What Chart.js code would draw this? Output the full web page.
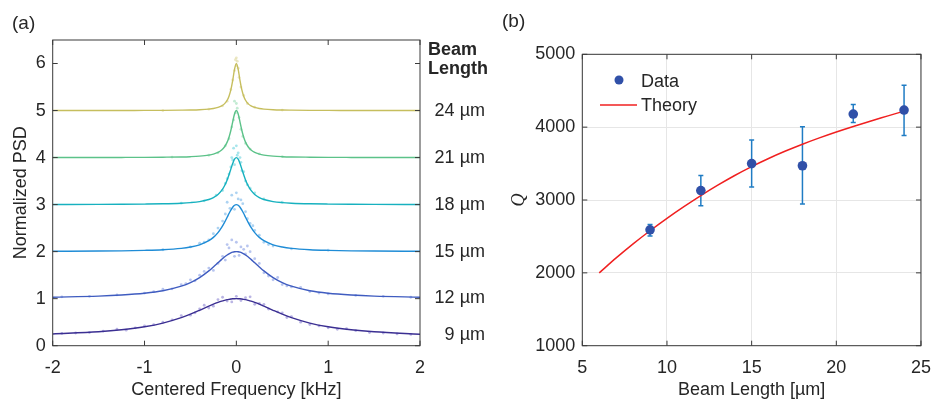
<!DOCTYPE html>
<html>
<head>
<meta charset="utf-8">
<script src="https://cdn.jsdelivr.net/npm/chart.js@4.4.1/dist/chart.umd.min.js"></script>
<style>
  body { margin: 0; background: #fff; }
  #wrap { position: relative; width: 943px; height: 401px; }
  canvas { position: absolute; top: 0; }
  #chartA { left: 0; }
  #chartB { left: 480px; }
</style>
</head>
<body>
<div id="wrap">
  <canvas id="chartA" width="500" height="401"></canvas>
  <canvas id="chartB" width="463" height="401"></canvas>
</div>
<script>
/* PANEL (a) DATA */

var freq = [-2, -1.5, -1.25, -1, -0.8, -0.6, -0.5, -0.4, -0.3, -0.25, -0.2, -0.16, -0.13, -0.1, -0.08, -0.06, -0.04, -0.02, 0,
  0.02, 0.04, 0.06, 0.08, 0.1, 0.13, 0.16, 0.2, 0.25, 0.3, 0.4, 0.5, 0.6, 0.8, 1, 1.25, 1.5, 2];

var psd9 = [0.250, 0.296, 0.338, 0.402, 0.481, 0.597, 0.670, 0.753, 0.840, 0.882, 0.920, 0.947, 0.964, 0.979, 0.986, 0.992, 0.997, 0.999, 1.000,
  0.999, 0.997, 0.992, 0.986, 0.979, 0.964, 0.947, 0.920, 0.882, 0.840, 0.753, 0.670, 0.597, 0.481, 0.402, 0.338, 0.296, 0.245];
var psd12 = [1.031, 1.054, 1.077, 1.115, 1.168, 1.265, 1.341, 1.447, 1.590, 1.675, 1.764, 1.835, 1.885, 1.928, 1.953, 1.973, 1.988, 1.997, 2.000,
  1.997, 1.988, 1.973, 1.953, 1.928, 1.885, 1.835, 1.764, 1.675, 1.590, 1.447, 1.341, 1.265, 1.168, 1.115, 1.077, 1.054, 1.031];
var psd15 = [2.007, 2.012, 2.017, 2.027, 2.041, 2.070, 2.098, 2.145, 2.232, 2.303, 2.405, 2.515, 2.617, 2.731, 2.810, 2.883, 2.944, 2.986, 3.000,
  2.986, 2.944, 2.883, 2.810, 2.731, 2.617, 2.515, 2.405, 2.303, 2.232, 2.145, 2.098, 2.070, 2.041, 2.027, 2.017, 2.012, 2.007];
var psd18 = [3.003, 3.005, 3.007, 3.011, 3.017, 3.030, 3.042, 3.064, 3.109, 3.150, 3.216, 3.301, 3.395, 3.524, 3.633, 3.754, 3.873, 3.965, 4.000,
  3.965, 3.873, 3.754, 3.633, 3.524, 3.395, 3.301, 3.216, 3.150, 3.109, 3.064, 3.042, 3.030, 3.017, 3.011, 3.007, 3.005, 3.003];
var psd21 = [4.001, 4.002, 4.003, 4.005, 4.008, 4.013, 4.019, 4.030, 4.052, 4.073, 4.109, 4.161, 4.225, 4.329, 4.434, 4.576, 4.754, 4.925, 5.000,
  4.925, 4.754, 4.576, 4.434, 4.329, 4.225, 4.161, 4.109, 4.073, 4.052, 4.030, 4.019, 4.013, 4.008, 4.005, 4.003, 4.002, 4.001];
var psd24 = [5.001, 5.001, 5.002, 5.003, 5.004, 5.008, 5.011, 5.017, 5.030, 5.043, 5.066, 5.099, 5.142, 5.219, 5.305, 5.438, 5.637, 5.876, 6.000,
  5.876, 5.637, 5.438, 5.305, 5.219, 5.142, 5.099, 5.066, 5.043, 5.030, 5.017, 5.011, 5.008, 5.004, 5.003, 5.002, 5.001, 5.001];

var pts9 = [[0, 1.05], [-0.1, 0.95], [0.1, 1.02], [-0.2, 0.98], [0.2, 0.88], [-0.3, 0.8], [0.3, 0.88], [-0.4, 0.78], [0.45, 0.72],
  [-0.5, 0.65], [0.6, 0.62], [-0.7, 0.55], [0.7, 0.5], [-0.9, 0.45], [0.9, 0.42], [-1.1, 0.38], [1.1, 0.35], [-1.3, 0.35],
  [1.3, 0.32], [-1.6, 0.28], [1.6, 0.27], [-1.9, 0.26], [1.9, 0.24], [-0.05, 0.93], [0.15, 1.04], [-0.6, 0.64], [0.55, 0.6],
  [-0.15, 1.03], [0.05, 0.96], [-0.35, 0.86], [0.35, 0.78], [-0.8, 0.5], [0.8, 0.45], [-1.0, 0.42], [1.0, 0.38], [-1.45, 0.31],
  [1.45, 0.28], [-1.75, 0.27], [1.75, 0.25], [-0.25, 0.84], [0.25, 0.9], [-0.45, 0.7], [0.5, 0.7], [-1.2, 0.33], [1.2, 0.36]];
var pts12 = [[0, 2.2], [-0.05, 2.25], [0.05, 2.1], [-0.1, 2.15], [0.1, 1.95], [-0.15, 1.9], [0.15, 2.0], [-0.2, 1.75], [0.2, 1.85],
  [-0.3, 1.65], [0.3, 1.55], [-0.4, 1.5], [0.4, 1.4], [-0.5, 1.4], [0.5, 1.3], [-0.6, 1.3], [0.6, 1.25], [-0.8, 1.2], [0.8, 1.15],
  [-1.0, 1.12], [1.0, 1.1], [-1.3, 1.08], [1.3, 1.07], [-1.6, 1.05], [-0.02, 1.9], [0.08, 2.05], [-0.25, 1.6], [0.25, 1.75],
  [-0.08, 2.08], [0.03, 1.92], [-0.12, 1.82], [0.12, 2.12], [-0.35, 1.58], [0.35, 1.48], [-0.45, 1.38], [0.45, 1.45],
  [-0.55, 1.32], [0.55, 1.27], [-0.7, 1.21], [0.7, 1.24], [-0.9, 1.15], [0.9, 1.12], [1.6, 1.05], [-1.9, 1.04], [1.9, 1.03]];
var pts15 = [[0, 3.25], [-0.05, 3.2], [0.05, 3.1], [-0.1, 3.05], [0.1, 2.85], [-0.02, 2.9], [0.15, 2.6], [-0.15, 2.65], [0.2, 2.45],
  [-0.2, 2.5], [0.25, 2.35], [-0.3, 2.25], [0.3, 2.2], [-0.4, 2.18], [0.4, 2.12], [-0.5, 2.1], [0.6, 2.06], [-0.8, 2.04], [1.0, 2.03],
  [0.02, 3.12], [-0.07, 2.92], [0.07, 3.02], [-0.12, 2.8], [0.12, 2.7], [-0.25, 2.38], [0.18, 2.55], [-0.35, 2.2], [0.35, 2.15]];
var pts18 = [[0, 4.25], [-0.03, 4.2], [0.02, 4.1], [-0.05, 4.0], [0.05, 3.9], [-0.02, 3.85], [0.08, 3.7], [-0.08, 3.65], [0.1, 3.5],
  [-0.12, 3.45], [0.15, 3.35], [-0.15, 3.3], [0.2, 3.25], [-0.22, 3.2], [0.3, 3.12], [-0.35, 3.08], [0.5, 3.05], [-0.6, 3.03],
  [0.01, 4.05], [-0.04, 3.95], [0.04, 4.0], [-0.06, 3.8], [0.06, 3.72], [0.12, 3.42], [-0.1, 3.55]];
var pts21 = [[0, 5.15], [-0.02, 5.2], [0.01, 5.05], [-0.01, 4.95], [0.03, 4.85], [-0.03, 4.8], [0.05, 4.6], [-0.05, 4.65], [0.07, 4.45],
  [-0.08, 4.4], [0.1, 4.3], [-0.12, 4.25], [0.15, 4.18], [-0.2, 4.1], [0.25, 4.08], [-0.3, 4.05], [0.5, 4.02], [-0.7, 4.01]];
var pts24 = [[0, 6.12], [0.01, 6.05], [-0.01, 6.08], [0, 5.95], [0.02, 5.9], [-0.02, 5.85], [0.03, 5.7], [-0.04, 5.65], [0.05, 5.5],
  [-0.06, 5.45], [0.08, 5.32], [-0.1, 5.2], [0.12, 5.15], [-0.15, 5.1], [0.2, 5.07], [-0.3, 5.03], [0.5, 5.01], [-0.8, 5.0]];

var beamLabels = ["9 µm", "12 µm", "15 µm", "18 µm", "21 µm", "24 µm"];
var lineColors = ["#3b2f92", "#3f5cc0", "#1f8cd6", "#17b1bf", "#5cc289", "#c6be5e"];
var dotColors = ["rgba(130,120,205,0.55)", "rgba(125,150,225,0.55)", "rgba(105,175,232,0.55)",
  "rgba(95,208,218,0.55)", "rgba(145,218,175,0.55)", "rgba(218,212,145,0.55)"];
var xTicksA = [-2, -1, 0, 1, 2];
var yTicksA = [0, 1, 2, 3, 4, 5, 6];

/* PANEL (b) DATA */

var beamLen = [9, 12, 15, 18, 21, 24];
var qVals = [2590, 3130, 3500, 3470, 4180, 4235];
var qLow = [2505, 2922, 3178, 2945, 4064, 3886];
var qHigh = [2665, 3338, 3822, 4005, 4311, 4575];
var theoryLen = [6, 7, 8, 9, 10, 11, 12, 13, 14, 15, 16, 17, 18, 19, 20, 21, 22, 23, 24];
var theoryQ = [2000, 2205, 2398, 2578, 2748, 2908, 3060, 3203, 3336, 3458, 3570, 3672, 3766, 3853, 3934, 4010, 4082, 4151, 4220];
var xTicksB = [5, 10, 15, 20, 25];
var yTicksB = [1000, 2000, 3000, 4000, 5000];

var FONT = "'Liberation Sans', Arial, sans-serif";
var TXT = "#262626";

// box round the plot area with MATLAB style inward ticks
var frameTicks = {
  id: "frameTicks",
  afterDraw: function (chart) {
    var ctx = chart.ctx, a = chart.chartArea, x = chart.scales.x, y = chart.scales.y;
    ctx.save();
    ctx.strokeStyle = "#3a3a3a";
    ctx.lineWidth = 1;
    ctx.strokeRect(a.left, a.top, a.right - a.left, a.bottom - a.top);
    ctx.beginPath();
    x.ticks.forEach(function (t) {
      var px = x.getPixelForValue(t.value);
      ctx.moveTo(px, a.bottom); ctx.lineTo(px, a.bottom - 5);
      ctx.moveTo(px, a.top); ctx.lineTo(px, a.top + 5);
    });
    y.ticks.forEach(function (t) {
      var py = y.getPixelForValue(t.value);
      ctx.moveTo(a.left, py); ctx.lineTo(a.left + 5, py);
      ctx.moveTo(a.right, py); ctx.lineTo(a.right - 5, py);
    });
    ctx.stroke();
    ctx.restore();
  }
};

/* FIRST CHART (a) */

var curvesA = [psd9, psd12, psd15, psd18, psd21, psd24];
var pointsA = [pts9, pts12, pts15, pts18, pts21, pts24];
var datasetsA = [];
for (var i = 0; i < curvesA.length; i++) {
  datasetsA.push({
    type: "line",
    data: freq.map(function (f, j) { return { x: f, y: curvesA[i][j] }; }),
    borderColor: lineColors[i],
    borderWidth: 1.4,
    pointRadius: 0,
    cubicInterpolationMode: "monotone",
    order: 0
  });
  datasetsA.push({
    type: "scatter",
    data: pointsA[i].map(function (p) { return { x: p[0], y: p[1] }; }),
    backgroundColor: dotColors[i],
    borderWidth: 0,
    pointRadius: 1.4,
    order: 1
  });
}

var textsA = {
  id: "textsA",
  afterDraw: function (chart) {
    var ctx = chart.ctx, a = chart.chartArea, y = chart.scales.y;
    ctx.save();
    ctx.fillStyle = TXT;
    ctx.textBaseline = "middle";
    ctx.font = "19px " + FONT;
    ctx.textAlign = "left";
    ctx.fillText("(a)", 12, 24);
    ctx.font = "18px " + FONT;
    ctx.textAlign = "center";
    ctx.fillText("Centered Frequency [kHz]", (a.left + a.right) / 2, 390);
    ctx.save();
    ctx.translate(21, (a.top + a.bottom) / 2);
    ctx.rotate(-Math.PI / 2);
    ctx.fillText("Normalized PSD", 0, 0);
    ctx.restore();
    ctx.font = "bold 18px " + FONT;
    ctx.textAlign = "left";
    ctx.fillText("Beam", 428, 50);
    ctx.fillText("Length", 428, 69);
    ctx.font = "18px " + FONT;
    ctx.textAlign = "right";
    for (var k = 0; k < curvesA.length; k++) {
      var last = curvesA[k][curvesA[k].length - 1];
      ctx.fillText(beamLabels[k], 485, y.getPixelForValue(last) + 1);
    }
    ctx.restore();
  }
};

new Chart("chartA", {
  type: "line",
  data: { datasets: datasetsA },
  options: {
    responsive: false,
    animation: false,
    layout: { padding: { left: 0, top: 40, right: 80, bottom: 0 } },
    plugins: { legend: { display: false }, tooltip: { enabled: false } },
    scales: {
      x: {
        type: "linear", min: -2, max: 2,
        afterBuildTicks: function (s) { s.ticks = xTicksA.map(function (v) { return { value: v }; }); },
        afterFit: function (s) { s.height = 55.3; },
        grid: { display: false, drawTicks: false },
        border: { display: false },
        ticks: { color: TXT, font: { family: FONT, size: 18 }, padding: 12, maxRotation: 0 }
      },
      y: {
        type: "linear", min: 0, max: 6.5,
        afterBuildTicks: function (s) { s.ticks = yTicksA.map(function (v) { return { value: v }; }); },
        afterFit: function (s) { s.width = 52.7; },
        grid: { display: false, drawTicks: false },
        border: { display: false },
        ticks: { color: TXT, font: { family: FONT, size: 18 }, padding: 7 }
      }
    }
  },
  plugins: [frameTicks, textsA]
});

/* SECOND CHART (b) */

var errorBars = {
  id: "errorBars",
  beforeDatasetsDraw: function (chart) {
    var ctx = chart.ctx, x = chart.scales.x, y = chart.scales.y;
    ctx.save();
    ctx.strokeStyle = "#1f7cc4";
    ctx.lineWidth = 1.5;
    ctx.beginPath();
    for (var k = 0; k < beamLen.length; k++) {
      var px = x.getPixelForValue(beamLen[k]);
      var lo = y.getPixelForValue(qLow[k]), hi = y.getPixelForValue(qHigh[k]);
      ctx.moveTo(px, lo); ctx.lineTo(px, hi);
      ctx.moveTo(px - 2.5, lo); ctx.lineTo(px + 2.5, lo);
      ctx.moveTo(px - 2.5, hi); ctx.lineTo(px + 2.5, hi);
    }
    ctx.stroke();
    ctx.restore();
  }
};

var textsB = {
  id: "textsB",
  afterDraw: function (chart) {
    var ctx = chart.ctx, a = chart.chartArea;
    ctx.save();
    ctx.fillStyle = TXT;
    ctx.textBaseline = "middle";
    ctx.font = "19px " + FONT;
    ctx.textAlign = "left";
    ctx.fillText("(b)", 22, 22);
    ctx.font = "18px " + FONT;
    ctx.textAlign = "center";
    ctx.fillText("Beam Length [µm]", (a.left + a.right) / 2, 390);
    ctx.save();
    ctx.translate(39, 200);
    ctx.rotate(-Math.PI / 2);
    ctx.font = "italic 18px 'Liberation Serif', 'DejaVu Serif', serif";
    ctx.fillText("Q", 0, 0);
    ctx.restore();
    // legend
    ctx.fillStyle = "#3050a8";
    ctx.beginPath();
    ctx.arc(139, 80, 4.5, 0, Math.PI * 2);
    ctx.fill();
    ctx.strokeStyle = "#f02020";
    ctx.lineWidth = 1.5;
    ctx.beginPath();
    ctx.moveTo(120, 105); ctx.lineTo(157, 105);
    ctx.stroke();
    ctx.fillStyle = TXT;
    ctx.textAlign = "left";
    ctx.fillText("Data", 161, 82);
    ctx.fillText("Theory", 161, 106);
    ctx.restore();
  }
};

new Chart("chartB", {
  type: "scatter",
  data: {
    datasets: [
      {
        type: "scatter",
        data: beamLen.map(function (b, j) { return { x: b, y: qVals[j] }; }),
        backgroundColor: "#3050a8",
        borderWidth: 0,
        pointRadius: 4.8,
        order: 0
      },
      {
        type: "line",
        data: theoryLen.map(function (b, j) { return { x: b, y: theoryQ[j] }; }),
        borderColor: "#f02020",
        borderWidth: 1.5,
        pointRadius: 0,
        cubicInterpolationMode: "monotone",
        order: 1
      }
    ]
  },
  options: {
    responsive: false,
    animation: false,
    layout: { padding: { left: 0, top: 54.3, right: 13, bottom: 0 } },
    plugins: { legend: { display: false }, tooltip: { enabled: false } },
    scales: {
      x: {
        type: "linear", min: 5, max: 25,
        afterBuildTicks: function (s) { s.ticks = xTicksB.map(function (v) { return { value: v }; }); },
        afterFit: function (s) { s.height = 55.3; },
        grid: { color: "#e6e6e6", drawTicks: false },
        border: { display: false },
        ticks: { color: TXT, font: { family: FONT, size: 18 }, padding: 12, maxRotation: 0 }
      },
      y: {
        type: "linear", min: 1000, max: 5000,
        afterBuildTicks: function (s) { s.ticks = yTicksB.map(function (v) { return { value: v }; }); },
        afterFit: function (s) { s.width = 102.3; },
        grid: { color: "#e6e6e6", drawTicks: false },
        border: { display: false },
        ticks: {
          color: TXT, font: { family: FONT, size: 18 }, padding: 7,
          callback: function (v) { return String(v); }
        }
      }
    }
  },
  plugins: [errorBars, frameTicks, textsB]
});
</script>
</body>
</html>
